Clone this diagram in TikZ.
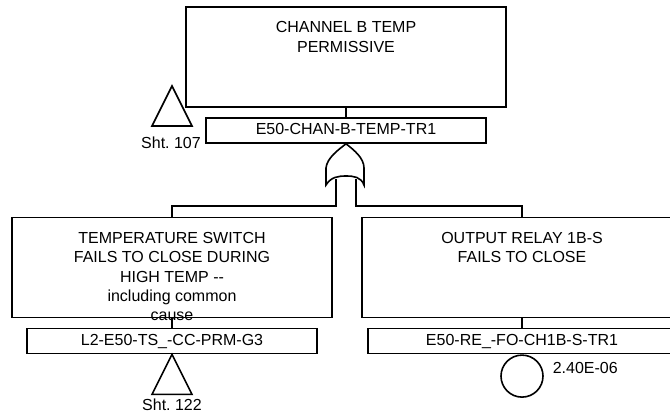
\documentclass[tikz,border=0pt]{standalone}
\usepackage{fontspec}
\setmainfont{Liberation Sans}
\usetikzlibrary{positioning}

\begin{document}
\begin{tikzpicture}[
  x=0.75pt, y=-0.75pt,
  line width=1.2pt,
  event/.style={draw, minimum width=240pt, minimum height=75pt, inner sep=0pt},
  evtext/.style={align=center, inner sep=0pt,
                 font=\fontsize{12}{14.5}\selectfont},
  tag/.style={draw, minimum height=18.75pt, inner sep=0pt,
              text height=9pt, text depth=2.5pt,
              font=\fontsize{12}{14}\selectfont},
  basic/.style={draw, circle, minimum size=31.5pt, inner sep=0pt},
  lbl/.style={inner sep=0pt, font=\fontsize{12}{14}\selectfont}
]
  \useasboundingbox (0,0) rectangle (670,419);

  % Top event
  \node[event] at (346,57) (top) {};
  \node[evtext, below=11pt of top.north] (toptxt) {CHANNEL B TEMP\\PERMISSIVE};
  \node[tag, minimum width=210pt] at (346,130.5) (topid) {E50-CHAN-B-TEMP-TR1};
  \draw (top) -- (topid);

  % Transfer in (left of top event)
  \coordinate (t107) at (172,86);
  \draw (t107) -- ++(20,40) -- ++(-40,0) -- cycle;
  \node[lbl, anchor=base] at (171,148) (s107) {Sht.\ 107};

  % Left input
  \node[event] at (172,267.5) (tsw) {};
  \node[evtext, below=11pt of tsw.north] (tswtxt)
      {TEMPERATURE SWITCH\\FAILS TO CLOSE DURING\\HIGH TEMP -{}-\\including common\\cause};
  \node[tag, minimum width=217.5pt] at (172,341) (tswid) {L2-E50-TS\_-CC-PRM-G3};
  \draw (tsw) -- (tswid);
  \coordinate (t122) at (tswid.south);
  \draw (t122) -- ++(20,40) -- ++(-40,0) -- cycle;
  \node[lbl, anchor=base] at (172,410) (s122) {Sht.\ 122};

  % Right input
  \node[event] at (522,267.5) (rly) {};
  \node[evtext, below=11pt of rly.north] (rlytxt) {OUTPUT RELAY 1B-S\\FAILS TO CLOSE};
  \node[tag, minimum width=231pt] at (522,341) (rlyid) {E50-RE\_-FO-CH1B-S-TR1};
  \draw (rly) -- (rlyid);
  \node[basic, below=0pt of rlyid] (be) {};
  \node[lbl, anchor=base west] at (552,373) (prob) {2.40E-06};

  % OR gate inputs
  \coordinate (gate) at (topid.south);
  \coordinate (gin1) at (336,179);
  \coordinate (gin2) at (356,179);
  \draw (tsw.north) -- ++(0,-10.5) -| (gin1);
  \draw (rly.north) -- ++(0,-10.5) -| (gin2);

  % OR gate
  \draw[fill=white] (gate) .. controls (338,150) and (327,158) .. (326,168)
      -- (326,185) .. controls (331,177) and (338,176) .. (346,176)
      .. controls (354,176) and (361,177) .. (364,185)
      -- (364,168) .. controls (364,158) and (354,150) .. (gate) -- cycle;

\end{tikzpicture}
\end{document}
